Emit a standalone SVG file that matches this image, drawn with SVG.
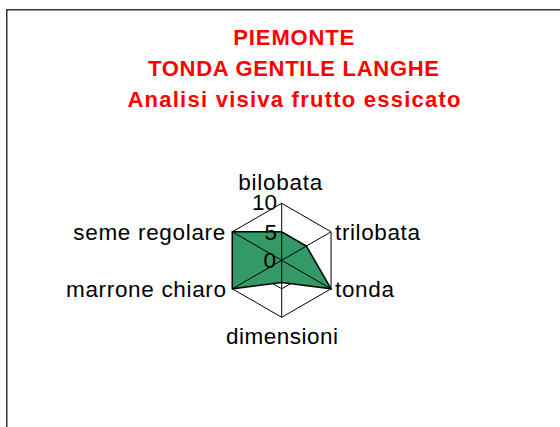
<svg xmlns="http://www.w3.org/2000/svg" width="560" height="427" viewBox="0 0 560 427">
  <style>
    .title { font-family: "Liberation Sans", Arial, sans-serif; font-weight: bold; font-size: 22px; fill: #ff0000; text-anchor: middle; }
    .lbl { font-family: "Liberation Sans", Arial, sans-serif; font-size: 22.5px; fill: #000000; }
    .grid { fill: none; stroke: #000000; stroke-width: 1; }
    .data { fill: #339966; stroke: #000000; stroke-width: 1.5; stroke-linejoin: miter; }
  </style>
  <rect x="0" y="0" width="560" height="427" fill="#ffffff"/>
  <rect x="6.75" y="9.75" width="700" height="600" fill="none" stroke="#333333" stroke-width="1.5"/>

  <g id="title">
    <text class="title" x="293.8" y="45" textLength="121" lengthAdjust="spacing">PIEMONTE</text>
    <text class="title" x="293.5" y="76" textLength="291" lengthAdjust="spacing">TONDA GENTILE LANGHE</text>
    <text class="title" x="294" y="107" textLength="333" lengthAdjust="spacing">Analisi visiva frutto essicato</text>
  </g>

  <g id="grid">
    <polygon class="grid" points="281.7,203.3 331.06,231.8 331.06,288.8 281.7,317.3 232.34,288.8 232.34,231.8"/>
    <polygon class="grid" points="281.7,231.8 306.38,246.05 306.38,274.55 281.7,288.8 257.02,274.55 257.02,246.05"/>
  </g>

  <g id="data">
    <polygon class="data" points="281.7,231.8 306.38,246.05 331.06,288.8 281.7,282.5 232.34,288.8 232.34,231.8"/>
  </g>

  <g id="spokes">
    <line class="grid" x1="281.7" y1="203.3" x2="281.7" y2="317.3"/>
    <line class="grid" x1="331.06" y1="231.8" x2="232.34" y2="288.8"/>
    <line class="grid" x1="331.06" y1="288.8" x2="232.34" y2="231.8"/>
  </g>

  <g id="axis-values">
    <text class="lbl" x="277" y="210" text-anchor="end">10</text>
    <text class="lbl" x="277" y="239.5" text-anchor="end">5</text>
    <text class="lbl" x="276" y="268" text-anchor="end">0</text>
  </g>

  <g id="label-bilobata"><text class="lbl" x="238.3" y="190" textLength="84" lengthAdjust="spacing">bilobata</text></g>
  <g id="label-trilobata"><text class="lbl" x="335" y="240" textLength="85" lengthAdjust="spacing">trilobata</text></g>
  <g id="label-tonda"><text class="lbl" x="335" y="297" textLength="59" lengthAdjust="spacing">tonda</text></g>
  <g id="label-dimensioni"><text class="lbl" x="226" y="343.5" textLength="112" lengthAdjust="spacing">dimensioni</text></g>
  <g id="label-marrone-chiaro"><text class="lbl" x="66" y="297" textLength="160" lengthAdjust="spacing">marrone chiaro</text></g>
  <g id="label-seme-regolare"><text class="lbl" x="73.3" y="240" textLength="152" lengthAdjust="spacing">seme regolare</text></g>
</svg>
